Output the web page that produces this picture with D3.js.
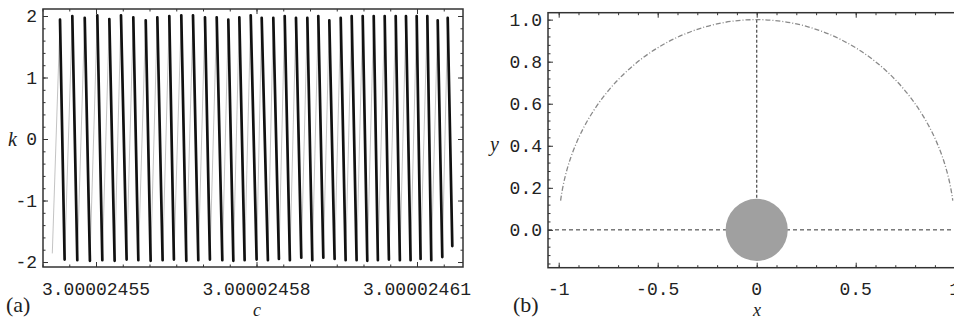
<!DOCTYPE html>
<html><head><meta charset="utf-8">
<script src="https://cdn.jsdelivr.net/npm/d3@7"></script>
<style>
html,body{margin:0;padding:0;background:#fff;}
svg{display:block;}
.tl{font-family:"Liberation Mono","DejaVu Sans Mono",monospace;font-size:18px;fill:#222;}
.ttl{font-family:"Liberation Serif","Times New Roman",serif;font-style:italic;font-size:20px;fill:#222;}
.ttlb{font-family:"Liberation Serif","Times New Roman",serif;font-style:italic;font-size:18px;fill:#222;}
.pl{font-family:"Liberation Serif","Times New Roman",serif;font-size:22px;fill:#222;}
</style></head>
<body>
<svg id="chart" width="954" height="320"></svg>
<script>
// ---------- DATA: panel (a) ----------
// c values are stored as offsets from C0 in units of 1e-8
const C0 = 3.00002455, CU = 1e-8;
const cTicks = [3.00002455, 3.00002458, 3.00002461];
const kTicks = [-2, -1, 0, 1, 2];
const startPoint = {dc: -0.817, k: -1.86};
const endPoint = {dc: 6.660, k: -1.74};
const peakDc = [-0.673,-0.443,-0.211,0.024,0.249,0.467,0.697,0.929,1.146,1.370,1.594,1.813,2.037,2.256,2.473,2.679,2.892,3.097,3.314,3.527,3.738,3.950,4.155,4.361,4.574,4.779,4.985,5.191,5.396,5.602,5.794,5.994,6.193,6.387,6.574];
const peakK = [1.94,2.00,1.97,2.01,1.95,2.01,1.98,1.93,1.98,2.00,2.01,2.01,1.98,1.98,1.94,1.98,2.01,1.97,1.97,2.00,1.97,1.97,2.00,1.93,1.97,2.00,2.00,2.00,2.00,2.00,2.00,2.00,2.00,1.93,1.97];
const troughDc = [-0.587,-0.350,-0.114,0.118,0.348,0.572,0.791,1.021,1.245,1.456,1.688,1.912,2.129,2.361,2.567,2.778,3.002,3.213,3.419,3.624,3.837,4.043,4.249,4.460,4.666,4.871,5.071,5.269,5.475,5.680,5.880,6.067,6.267,6.473];
const troughK = [-1.96,-1.97,-1.98,-1.97,-1.98,-1.96,-1.97,-1.98,-1.97,-1.96,-1.98,-1.97,-1.96,-1.97,-1.98,-1.97,-1.96,-1.97,-1.95,-1.97,-1.93,-1.97,-1.93,-1.95,-1.97,-1.97,-1.98,-1.97,-1.96,-1.97,-1.97,-1.95,-1.97,-1.92];

// ---------- DATA: panel (b) ----------
const xTicks = [-1, -0.5, 0, 0.5, 1];
const yTicks = [0, 0.2, 0.4, 0.6, 0.8, 1.0];
const arcRadius = 1;
const arcAnglesDeg = [172, 8];     // start / end of the dashed semicircle
const discRadius = 0.157;
const verticalLine = {x: 0, y0: 1.0, y1: 0.15};
const horizontalLine = {y: 0};

// ---------- LAYOUT ----------
const svg = d3.select("#chart");
const A = {left: 43, right: 463, top: 9, bottom: 267};
const B = {left: 548, right: 965.4, top: 12.7, bottom: 267.7};

const xC = d3.scaleLinear().domain([C0 - 0.991 * CU, C0 + 6.86 * CU]).range([A.left, A.right]);
const yK = d3.scaleLinear().domain([-2.081, 2.114]).range([A.bottom, A.top]);
const xB = d3.scaleLinear().domain([-1.054, 1.054]).range([B.left, B.right]);
const yB = d3.scaleLinear().domain([-0.18, 1.033]).range([B.bottom, B.top]);

function frame(P, xs, ys, xMaj, xMin, yMaj, yMin) {
  const g = svg.append("g");
  const tickStyle = s => s.selectAll("line").attr("stroke", "#333").attr("stroke-width", 1);
  const axes = [
    [d3.axisBottom(xs), `translate(0,${P.bottom})`, xMaj, xMin],
    [d3.axisTop(xs), `translate(0,${P.top})`, xMaj, xMin],
    [d3.axisLeft(ys), `translate(${P.left},0)`, yMaj, yMin],
    [d3.axisRight(ys), `translate(${P.right},0)`, yMaj, yMin]
  ];
  axes.forEach(([ax, tr, maj, min]) => {
    g.append("g").attr("transform", tr)
      .call(ax.tickValues(min).tickSize(-2.5).tickFormat(""))
      .call(s => s.select(".domain").remove()).call(tickStyle);
    g.append("g").attr("transform", tr)
      .call(ax.tickValues(maj).tickSize(-5).tickFormat(""))
      .call(s => s.select(".domain").remove()).call(tickStyle);
  });
  g.append("rect").attr("x", P.left).attr("y", P.top)
    .attr("width", P.right - P.left).attr("height", P.bottom - P.top)
    .attr("fill", "none").attr("stroke", "#333").attr("stroke-width", 1.5);
  return g;
}

// ---------- PANEL (a) ----------
const cMinor = d3.range(-2, 14).map(i => C0 + i * 0.5 * CU);
const kMinor = d3.range(-10, 11).map(i => i * 0.2);
frame(A, xC, yK, cTicks, cMinor, kTicks, kMinor);

// polyline: start, peak1, trough1, peak2, ..., peak35, end
const pts = [[startPoint.dc, startPoint.k, "up"]];
peakDc.forEach((d, i) => {
  pts.push([d, peakK[i], "peak"]);
  if (i < troughDc.length) pts.push([troughDc[i], troughK[i], "trough"]);
});
pts.push([endPoint.dc, endPoint.k, "end"]);

const segs = d3.pairs(pts);
const lineGen = d3.line().x(p => xC(C0 + p[0] * CU)).y(p => yK(p[1]));
const gw = svg.append("g");
// rising strokes (faint in the print)
gw.selectAll("path.up").data(segs.filter(s => s[0][2] !== "peak")).join("path")
  .attr("class", "up").attr("fill", "none").attr("stroke", "#9a9a9a").attr("stroke-width", 0.6)
  .attr("d", lineGen);
// falling strokes (heavy bars)
gw.selectAll("path.dn").data(segs.filter(s => s[0][2] === "peak")).join("path")
  .attr("class", "dn").attr("fill", "none").attr("stroke", "#111").attr("stroke-width", 2.7)
  .attr("stroke-linecap", "round")
  .attr("d", lineGen);

const fmtC = d3.format(".8f");
svg.append("g").selectAll("text").data(cTicks).join("text")
  .attr("class", "tl").attr("text-anchor", "middle")
  .attr("x", d => xC(d)).attr("y", 295).text(d => fmtC(d));
svg.append("g").selectAll("text").data(kTicks).join("text")
  .attr("class", "tl").attr("text-anchor", "end")
  .attr("x", A.left - 6).attr("y", d => yK(d) + 6).text(d => d < 0 ? "-" + Math.abs(d) : d);
svg.append("text").attr("class", "ttl").attr("x", 8).attr("y", 146).text("k");
svg.append("text").attr("class", "ttlb").attr("x", 253).attr("y", 316).text("c");
svg.append("text").attr("class", "pl").attr("x", 6).attr("y", 312).text("(a)");

// ---------- PANEL (b) ----------
const xMinorB = d3.range(-10, 11).map(i => i * 0.1);
const yMinorB = d3.range(-4, 26).map(i => i * 0.04);
frame(B, xB, yB, xTicks, xMinorB, yTicks, yMinorB);

svg.append("clipPath").attr("id", "cb").append("rect")
  .attr("x", B.left).attr("y", B.top).attr("width", B.right - B.left).attr("height", B.bottom - B.top);
const gb = svg.append("g").attr("clip-path", "url(#cb)");

gb.append("line")
  .attr("x1", B.left).attr("x2", B.right)
  .attr("y1", yB(horizontalLine.y)).attr("y2", yB(horizontalLine.y))
  .attr("stroke", "#333").attr("stroke-width", 1).attr("stroke-dasharray", "4,3");

gb.append("line")
  .attr("x1", xB(verticalLine.x)).attr("x2", xB(verticalLine.x))
  .attr("y1", yB(verticalLine.y0)).attr("y2", yB(verticalLine.y1))
  .attr("stroke", "#555").attr("stroke-width", 1.3).attr("stroke-dasharray", "3,2");

const a0 = arcAnglesDeg[0] * Math.PI / 180, a1 = arcAnglesDeg[1] * Math.PI / 180;
const rx = xB(arcRadius) - xB(0), ry = yB(0) - yB(arcRadius);
gb.append("path")
  .attr("d", `M${xB(arcRadius * Math.cos(a0))},${yB(arcRadius * Math.sin(a0))} A${rx},${ry} 0 0 1 ${xB(arcRadius * Math.cos(a1))},${yB(arcRadius * Math.sin(a1))}`)
  .attr("fill", "none").attr("stroke", "#8a8a8a").attr("stroke-width", 1.3)
  .attr("stroke-dasharray", "5,2,1,2");

gb.append("circle")
  .attr("cx", xB(0)).attr("cy", yB(0)).attr("r", xB(discRadius) - xB(0))
  .attr("fill", "#a0a0a0");

svg.append("g").selectAll("text").data(xTicks).join("text")
  .attr("class", "tl").attr("text-anchor", "middle")
  .attr("x", d => xB(d)).attr("y", 295).text(d => d < 0 ? "-" + Math.abs(d) : d);
svg.append("g").selectAll("text").data(yTicks).join("text")
  .attr("class", "tl").attr("text-anchor", "end")
  .attr("x", B.left - 6).attr("y", d => yB(d) + 6).text(d => d3.format(".1f")(d));
svg.append("text").attr("class", "ttl").attr("x", 490).attr("y", 151).text("y");
svg.append("text").attr("class", "ttlb").attr("x", 753).attr("y", 316).text("x");
svg.append("text").attr("class", "pl").attr("x", 513).attr("y", 312).text("(b)");
</script>
</body></html>
